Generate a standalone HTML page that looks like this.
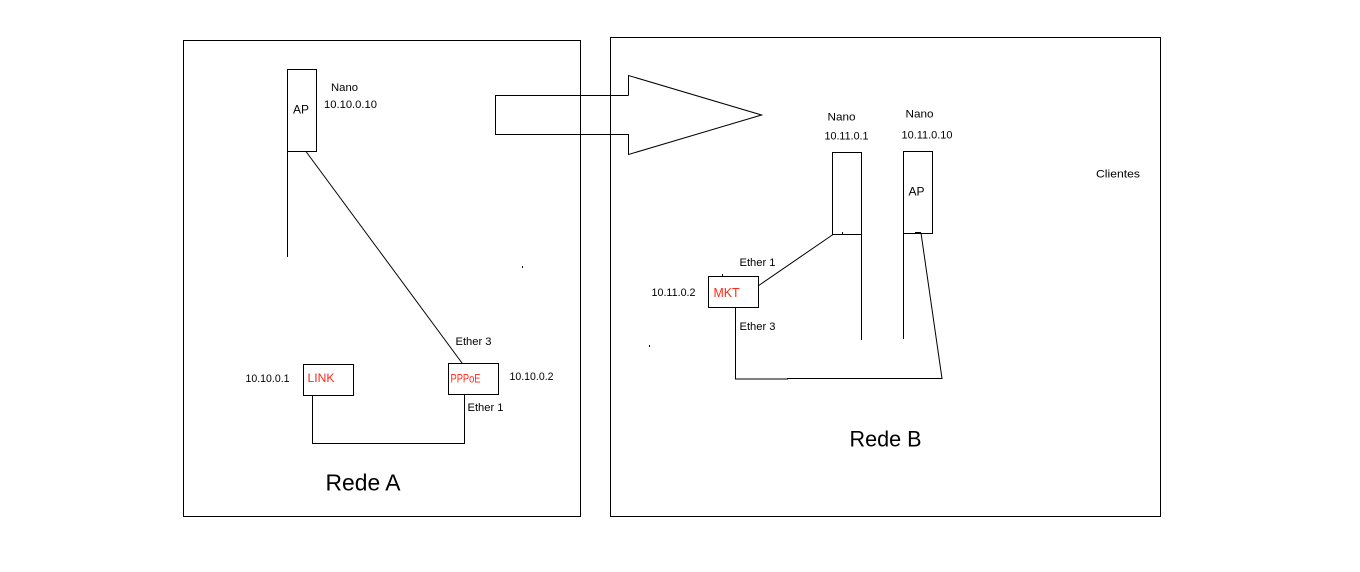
<!DOCTYPE html>
<html>
<head>
<meta charset="utf-8">
<style>
html,body{margin:0;padding:0;background:#fff;}
body{width:1360px;height:572px;overflow:hidden;}
svg{display:block;}
text{font-family:"Liberation Sans",sans-serif;}
</style>
</head>
<body>
<svg width="1360" height="572" viewBox="0 0 1360 572" xmlns="http://www.w3.org/2000/svg">
<g fill="none" stroke="#000" stroke-width="1">
  <!-- Rede A box -->
  <rect x="183.5" y="40.5" width="397" height="476"/>
  <!-- Rede B box -->
  <rect x="610.5" y="37.5" width="550" height="479"/>

  <!-- Arrow -->
  <polyline points="628.5,95.5 495.5,95.5 495.5,134.5 628.5,134.5 628.5,154.5 761.5,115 628.5,75.5 628.5,95.5"/>

  <!-- Rede A: Nano AP -->
  <rect x="287.5" y="69.5" width="29" height="82"/>
  <line x1="287.5" y1="151" x2="287.5" y2="257"/>
  <line x1="306" y1="151.5" x2="462" y2="363"/>

  <!-- LINK box -->
  <rect x="303.5" y="364.5" width="50" height="31"/>
  <!-- PPPoE box -->
  <rect x="448.5" y="363.5" width="50" height="31"/>
  <polyline points="312.5,395 312.5,443.5 464.5,443.5 464.5,394"/>

  <!-- Rede B: Nano 1 -->
  <rect x="832.5" y="152.5" width="29" height="82"/>
  <line x1="861.5" y1="234" x2="861.5" y2="340"/>
  <!-- Nano AP -->
  <rect x="903.5" y="151.5" width="29" height="82"/>
  <line x1="903.5" y1="233" x2="903.5" y2="339"/>

  <!-- MKT box -->
  <rect x="708.5" y="276.5" width="50" height="31"/>
  <line x1="758" y1="286" x2="833" y2="234.5"/>
  <polyline points="735.5,307 735.5,379 787.5,379 787.5,378.5 942,378.5 921,233"/>
  <line x1="915" y1="233" x2="921" y2="233" stroke-width="2"/>
  <line x1="722.5" y1="274" x2="722.5" y2="276"/>
  <line x1="842.5" y1="232" x2="842.5" y2="234"/>
</g>
<!-- stray dots -->
<rect x="522" y="266" width="1" height="2" fill="#000"/>
<rect x="649" y="345" width="1" height="2" fill="#000"/>

<!-- Rede A labels -->
<g font-size="11" fill="#000">
  <text x="331" y="91" textLength="27" lengthAdjust="spacingAndGlyphs">Nano</text>
  <text x="324" y="108" textLength="53" lengthAdjust="spacingAndGlyphs">10.10.0.10</text>
  <text x="455.5" y="345" textLength="36" lengthAdjust="spacingAndGlyphs">Ether 3</text>
  <text x="245.5" y="382" textLength="44" lengthAdjust="spacingAndGlyphs">10.10.0.1</text>
  <text x="509.5" y="380" textLength="44" lengthAdjust="spacingAndGlyphs">10.10.0.2</text>
  <text x="467.5" y="411" textLength="36" lengthAdjust="spacingAndGlyphs">Ether 1</text>
</g>
<text x="293" y="113.5" font-size="12" fill="#000" textLength="16" lengthAdjust="spacingAndGlyphs">AP</text>
<text x="307.5" y="382" font-size="12" fill="#ff2a1a" textLength="27" lengthAdjust="spacingAndGlyphs">LINK</text>
<text x="450.5" y="382.5" font-size="11.5" fill="#ff2a1a" textLength="30" lengthAdjust="spacingAndGlyphs">PPPoE</text>
<text x="325.5" y="490.5" font-size="23" fill="#000" textLength="75" lengthAdjust="spacingAndGlyphs">Rede A</text>

<!-- Rede B labels -->
<g font-size="11" fill="#000">
  <text x="827.5" y="120.5" textLength="28" lengthAdjust="spacingAndGlyphs">Nano</text>
  <text x="824.5" y="139.5" textLength="44" lengthAdjust="spacingAndGlyphs">10.11.0.1</text>
  <text x="905.5" y="117.5" textLength="28" lengthAdjust="spacingAndGlyphs">Nano</text>
  <text x="901.5" y="138.5" textLength="51" lengthAdjust="spacingAndGlyphs">10.11.0.10</text>
  <text x="739.5" y="266" textLength="36" lengthAdjust="spacingAndGlyphs">Ether 1</text>
  <text x="651.5" y="296" textLength="44" lengthAdjust="spacingAndGlyphs">10.11.0.2</text>
  <text x="739.5" y="330" textLength="36" lengthAdjust="spacingAndGlyphs">Ether 3</text>
  <text x="1096" y="177.5" textLength="44" lengthAdjust="spacingAndGlyphs">Clientes</text>
</g>
<text x="908.5" y="195.5" font-size="12" fill="#000" textLength="16" lengthAdjust="spacingAndGlyphs">AP</text>
<text x="713.5" y="297" font-size="12.5" fill="#ff2a1a" textLength="26" lengthAdjust="spacingAndGlyphs">MKT</text>
<text x="849.5" y="446.5" font-size="22.5" fill="#000" textLength="72" lengthAdjust="spacingAndGlyphs">Rede B</text>
</svg>
</body>
</html>
